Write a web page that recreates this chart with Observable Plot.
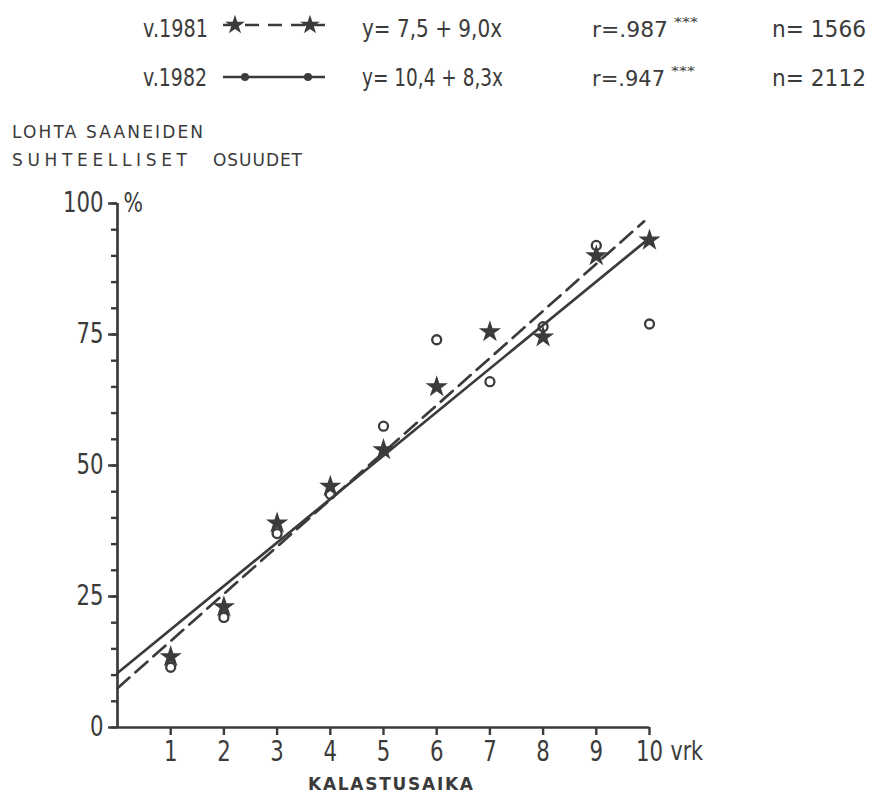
<!DOCTYPE html>
<html><head><meta charset="utf-8">
<script src="https://cdn.jsdelivr.net/npm/d3@7"></script>
<script src="https://cdn.jsdelivr.net/npm/@observablehq/plot@0.6"></script>
<style>body{margin:0;background:#fff}</style>
</head><body><div id="chart"></div>
<script>
// ---- data ----
const days = [1, 2, 3, 4, 5, 6, 7, 8, 9, 10];
const share1981 = [13.5, 23, 39, 46, 53, 65, 75.5, 74.5, 90, 93];
const share1982 = [11.5, 21, 37, 44.5, 57.5, 74, 66, 76.5, 92, 77];
const fitX1981 = [0, 9.9];
const fitY1981 = [7.5, 96.6];   // y = 7,5 + 9,0x
const fitX1982 = [0, 10];
const fitY1982 = [10.4, 93.4];  // y = 10,4 + 8,3x
const yMajorTicks = [0, 25, 50, 75, 100];
const yMinorTicks = d3.range(0, 101, 5);
const years = ["v.1981", "v.1982"];
const equations = ["y= 7,5 + 9,0x", "y= 10,4 + 8,3x"];
const rValues = ["r=.987", "r=.947"];
const rStars = ["***", "***"];
const nValues = ["n= 1566", "n= 2112"];
const yTitle = ["LOHTA SAANEIDEN", "SUHTEELLISET", "OSUUDET"];
const xTitle = "KALASTUSAIKA";
const xUnit = "vrk";
const yUnit = "%";

const ink = "#3b3b3b";
const font = "'DejaVu Sans',sans-serif";

const obs1981 = days.map((d, i) => ({x: d, y: share1981[i]}));
const obs1982 = days.map((d, i) => ({x: d, y: share1982[i]}));
const line1981 = fitX1981.map((d, i) => ({x: d, y: fitY1981[i]}));
const line1982 = fitX1982.map((d, i) => ({x: d, y: fitY1982[i]}));

const W = 877, H = 795;
const plot = Plot.plot({
  width: W, height: H,
  marginLeft: 117, marginRight: 228, marginTop: 203, marginBottom: 68,
  x: {domain: [0, 10], axis: null},
  y: {domain: [0, 100], axis: null},
  style: {fontFamily: font, color: ink, background: "#fff", overflow: "visible"},
  marks: [
    Plot.axisY(yMinorTicks, {tickSize: 6, tickFormat: () => "", label: null, strokeWidth: 2.4, stroke: ink}),
    Plot.axisY(yMajorTicks, {tickSize: 9, tickPadding: 5, label: null, fontSize: 28, strokeWidth: 2.4, stroke: ink, fill: ink}),
    Plot.axisX(days, {tickSize: 8, tickPadding: 6, label: null, fontSize: 28, strokeWidth: 2.4, stroke: ink, fill: ink}),
    Plot.ruleX([0], {y1: 0, y2: 100, strokeWidth: 2.7, stroke: ink}),
    Plot.ruleY([0], {x1: 0, x2: 10, strokeWidth: 2.7, stroke: ink}),
    Plot.text([yUnit], {x: 0, y: 100, dx: 6, textAnchor: "start", fontSize: 27, fill: ink}),
    Plot.text([xUnit], {x: 10, y: 0, dx: 21, dy: 24, textAnchor: "start", fontSize: 27, fill: ink}),
    Plot.line(line1981, {x: "x", y: "y", stroke: ink, strokeWidth: 2.7, strokeDasharray: "16,8"}),
    Plot.line(line1982, {x: "x", y: "y", stroke: ink, strokeWidth: 2.7}),
    Plot.dot(obs1982, {x: "x", y: "y", symbol: "circle", r: 4.5, stroke: ink, strokeWidth: 2.3, fill: "none"}),
    Plot.dot(obs1981, {x: "x", y: "y", symbol: "star", r: 7, fill: ink, stroke: "none"})
  ]
});
document.getElementById("chart").appendChild(plot);

const svg = d3.select(plot);
// condense the plot's own texts to imitate the narrow lettering of the original
svg.selectAll("text").each(function () {
  const len = this.getComputedTextLength();
  if (len > 0) d3.select(this).attr("textLength", len * 0.76).attr("lengthAdjust", "spacingAndGlyphs");
});

// ---- header legend, axis titles ----
const g = svg.append("g").attr("fill", ink).attr("text-anchor", "start").style("font-family", font);
function label(x, y, size, txt, width, adjust, extra) {
  const t = g.append("text").attr("x", x).attr("y", y).attr("font-size", size).text(txt);
  if (extra) extra(t);
  const len = t.node().getComputedTextLength();
  t.attr("textLength", width != null ? width : len * 0.78).attr("lengthAdjust", adjust || "spacingAndGlyphs");
  return t;
}
const rowY = [37, 86];
const lineY = [25, 77];
const yearW = [65, 64], eqW = [140, 141], rW = [76, 73];
[0, 1].forEach(i => {
  const y = rowY[i];
  label(143, y, 24, years[i], yearW[i]);
  label(362, y, 24, equations[i], eqW[i]);
  label(592, y, 22, rValues[i], rW[i]);
  label(592 + rW[i] + 6, y - 11, 12, rStars[i], 24);
  label(772, y, 23, nValues[i], 94);
  g.append("line").attr("x1", 223).attr("x2", 325).attr("y1", lineY[i]).attr("y2", lineY[i])
    .attr("stroke", ink).attr("stroke-width", 2.7)
    .attr("stroke-dasharray", i === 0 ? "14,9" : null)
    .attr("stroke-dashoffset", i === 0 ? -22 : null);
});
const sym1 = d3.symbol(d3.symbolStar, 120);
const sym2 = d3.symbol(d3.symbolCircle, 50);
[[235, 310], [245, 308]].forEach((xs, i) => xs.forEach(x => {
  g.append("path").attr("d", (i === 0 ? sym1 : sym2)()).attr("transform", `translate(${x},${lineY[i]})`).attr("fill", ink);
}));
label(12, 138, 17, yTitle[0], 191, "spacing");
label(12, 166, 17, yTitle[1], 175, "spacing");
label(213, 166, 17, yTitle[2], 89, "spacing");
label(308, 790, 17, xTitle, 165, "spacing", t => t.attr("font-weight", "bold"));
</script>
</body></html>
